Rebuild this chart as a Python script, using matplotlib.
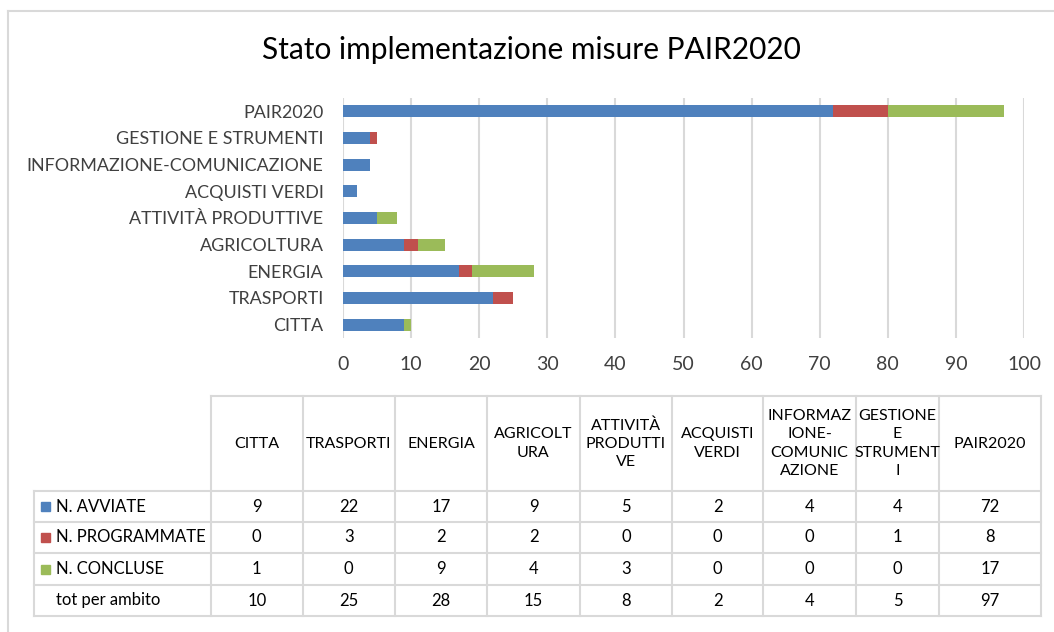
import matplotlib
matplotlib.use("Agg")
import matplotlib.pyplot as plt
from matplotlib.patches import Rectangle
from matplotlib.lines import Line2D

plt.rcParams['font.family'] = ['Lato', 'DejaVu Sans']

# ---- data ----
categories = ["CITTA", "TRASPORTI", "ENERGIA", "AGRICOLTURA", "ATTIVITÀ PRODUTTIVE",
              "ACQUISTI VERDI", "INFORMAZIONE-COMUNICAZIONE", "GESTIONE E STRUMENTI", "PAIR2020"]
table_headers = ["CITTA", "TRASPORTI", "ENERGIA", "AGRICOLT\nURA", "ATTIVITÀ\nPRODUTTI\nVE",
                 "ACQUISTI\nVERDI", "INFORMAZ\nIONE-\nCOMUNIC\nAZIONE", "GESTIONE\nE\nSTRUMENT\nI", "PAIR2020"]
series_names = ["N. AVVIATE", "N. PROGRAMMATE", "N. CONCLUSE"]
avviate = [9, 22, 17, 9, 5, 2, 4, 4, 72]
programmate = [0, 3, 2, 2, 0, 0, 0, 1, 8]
concluse = [1, 0, 9, 4, 3, 0, 0, 0, 17]
total_label = "tot per ambito"
totals = [10, 25, 28, 15, 8, 2, 4, 5, 97]
title = "Stato implementazione misure PAIR2020"
x_ticks = [0, 10, 20, 30, 40, 50, 60, 70, 80, 90, 100]

colors = ["#4F81BD", "#C0504D", "#9BBB59"]
grid_c = "#D9D9D9"
txt_c = "#404040"

W, H = 1054, 632
fig = plt.figure(figsize=(W / 100, H / 100), dpi=100)
fig.patch.set_facecolor("white")

# overlay axes in pixel coordinates (for border + table)
ov = fig.add_axes([0, 0, 1, 1], zorder=0)
ov.set_xlim(0, W)
ov.set_ylim(H, 0)
ov.axis("off")

# outer chart border
ov.add_line(Line2D([8, W + 5], [11, 11], color=grid_c, lw=1.5))
ov.add_line(Line2D([8, 8], [11, H + 5], color=grid_c, lw=1.5))

# title
ov.text(531, 50, title, ha="center", va="center", fontsize=21.5, color="#000000")

# ---- bar chart ----
def px2fig(x0, y0, x1, y1):
    return [x0 / W, 1 - y1 / H, (x1 - x0) / W, (y1 - y0) / H]

ax = fig.add_axes(px2fig(343, 98, 1024, 338), zorder=1)
ax.patch.set_alpha(0)
y = list(range(len(categories)))
left = [0] * len(categories)
for vals, c, name in zip([avviate, programmate, concluse], colors, series_names):
    ax.barh(y, vals, left=left, height=0.45, color=c, label=name, zorder=3)
    left = [l + v for l, v in zip(left, vals)]
ax.set_xlim(0, 100)
ax.set_ylim(-0.5, len(categories) - 0.5)
ax.set_xticks(x_ticks)
ax.set_yticks(y)
ax.set_yticklabels(categories)
ax.grid(axis="x", color=grid_c, lw=1.5, zorder=0)
for s in ax.spines.values():
    s.set_visible(False)
ax.tick_params(axis="both", length=0, colors=txt_c)
ax.tick_params(axis="y", labelsize=12.9, pad=14)
ax.tick_params(axis="x", labelsize=14, pad=13)

# ---- data table ----
col_edges = [211, 302.5, 395, 487, 580, 672, 763, 856, 939, 1041]
row_edges = [396, 491, 522, 553, 585, 616]
label_left = 34
lw_t = 1.5

# header borders (start at first data column)
ov.add_line(Line2D([col_edges[0], col_edges[-1]], [row_edges[0]] * 2, color=grid_c, lw=lw_t))
for xe in col_edges:
    ov.add_line(Line2D([xe, xe], [row_edges[0], row_edges[-1]], color=grid_c, lw=lw_t))
for ye in row_edges[1:]:
    ov.add_line(Line2D([label_left, col_edges[-1]], [ye, ye], color=grid_c, lw=lw_t))
ov.add_line(Line2D([label_left, label_left], [row_edges[1], row_edges[-1]], color=grid_c, lw=lw_t))

hdr_y = (row_edges[0] + row_edges[1]) / 2
for i, h in enumerate(table_headers):
    cx = (col_edges[i] + col_edges[i + 1]) / 2
    ov.text(cx, hdr_y, h, ha="center", va="center", fontsize=11.5, color="#000000",
            linespacing=1.38)

rows = [avviate, programmate, concluse, totals]
labels = series_names + [total_label]
for r, (vals, lab) in enumerate(zip(rows, labels)):
    cy = (row_edges[r + 1] + row_edges[r + 2]) / 2
    if r < 3:
        ov.add_patch(Rectangle((41, cy - 4.5), 9, 9, color=colors[r]))
    ov.text(56, cy, lab, ha="left", va="center", fontsize=12, color="#000000")
    for i, v in enumerate(vals):
        cx = (col_edges[i] + col_edges[i + 1]) / 2
        ov.text(cx, cy, str(v), ha="center", va="center", fontsize=12, color="#000000")

fig.savefig("out.png", dpi=100, facecolor="white")
